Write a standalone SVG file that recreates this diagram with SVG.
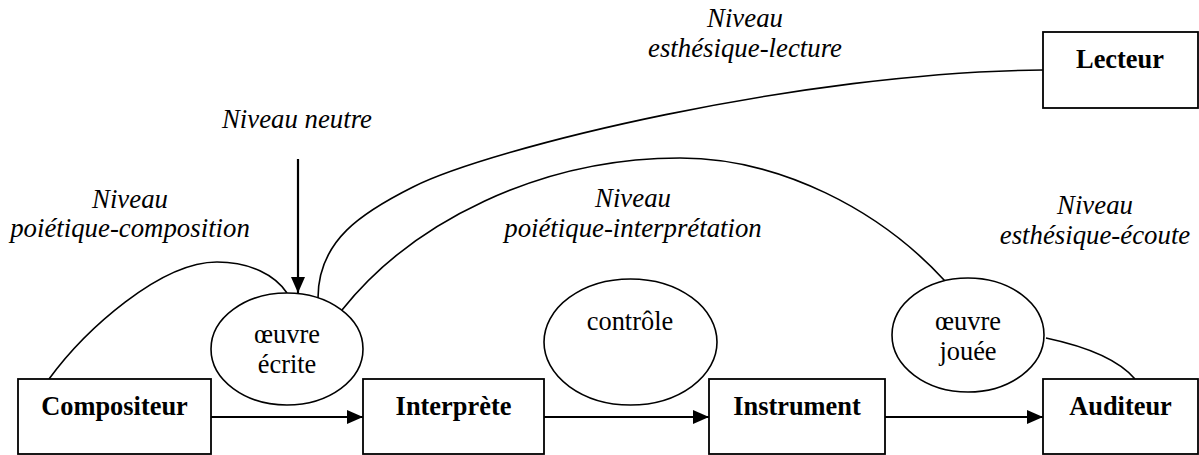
<svg xmlns="http://www.w3.org/2000/svg" width="1199" height="455" viewBox="0 0 1199 455">
  <defs>
    <style>
      .box { fill: #fff; stroke: #000; stroke-width: 1.8; }
      .oval { fill: #fff; stroke: #000; stroke-width: 1.6; }
      .curve { fill: none; stroke: #000; stroke-width: 1.6; }
      .flow { fill: none; stroke: #000; stroke-width: 2.2; }
      text { font-family: 'Liberation Serif', 'Times New Roman', serif; font-size: 26.4px; text-anchor: middle; fill: #000; }
      .name { font-weight: bold; }
      .level { font-style: italic; font-size: 26.8px; }
    </style>
    <marker id="arrow" viewBox="0 0 16 14" refX="16" refY="7" markerWidth="16" markerHeight="14" markerUnits="userSpaceOnUse" orient="auto">
      <path d="M0,0 L16,7 L0,14 Z" fill="#000"/>
    </marker>
  </defs>

  <!-- level labels -->
  <g id="labels">
    <text class="level" x="745" y="27">Niveau</text>
    <text class="level" x="745" y="57">esthésique-lecture</text>
    <text class="level" x="297" y="128">Niveau neutre</text>
    <text class="level" x="130" y="208">Niveau</text>
    <text class="level" x="130" y="237">poiétique-composition</text>
    <text class="level" x="633" y="207">Niveau</text>
    <text class="level" x="633" y="237">poiétique-interprétation</text>
    <text class="level" x="1095" y="214">Niveau</text>
    <text class="level" x="1095" y="244">esthésique-écoute</text>
  </g>

  <!-- connectors -->
  <g id="connectors">
    <path class="curve" d="M49,379 C85,330 160,262 217,262 C250,262 275,275 287,293"/>
    <path class="curve" d="M318,298 C318,240 363,212 413,187 C490,148 800,72 1043,70"/>
    <path class="curve" d="M342,310 C412,222 540,158 680,158 C780,158 880,210 945,281"/>
    <path class="curve" d="M1046,338 Q1112,352 1135,379"/>
    <line class="flow" x1="298" y1="159" x2="298" y2="293" marker-end="url(#arrow)"/>
    <line class="flow" x1="211" y1="417" x2="363" y2="417" marker-end="url(#arrow)"/>
    <line class="flow" x1="544" y1="417" x2="709" y2="417" marker-end="url(#arrow)"/>
    <line class="flow" x1="885" y1="417" x2="1043" y2="417" marker-end="url(#arrow)"/>
  </g>

  <g id="lecteur">
    <rect class="box" x="1043" y="32" width="155" height="76"/>
    <text class="name" x="1120" y="68">Lecteur</text>
  </g>

  <g id="oeuvre-ecrite">
    <ellipse class="oval" cx="287" cy="349" rx="76" ry="56"/>
    <text class="work" x="287" y="343">œuvre</text>
    <text class="work" x="287" y="373">écrite</text>
  </g>

  <g id="controle">
    <ellipse class="oval" cx="630.5" cy="342" rx="86.5" ry="63"/>
    <text class="work" x="630" y="330">contrôle</text>
  </g>

  <g id="oeuvre-jouee">
    <ellipse class="oval" cx="968" cy="335" rx="76" ry="57"/>
    <text class="work" x="968" y="330">œuvre</text>
    <text class="work" x="968" y="360">jouée</text>
  </g>

  <g id="compositeur">
    <rect class="box" x="18" y="379" width="193" height="75"/>
    <text class="name" x="114.5" y="415">Compositeur</text>
  </g>

  <g id="interprete">
    <rect class="box" x="363" y="379" width="181" height="75"/>
    <text class="name" x="453.5" y="415">Interprète</text>
  </g>

  <g id="instrument">
    <rect class="box" x="709" y="379" width="176" height="75"/>
    <text class="name" x="797" y="415">Instrument</text>
  </g>

  <g id="auditeur">
    <rect class="box" x="1043" y="379" width="155" height="75"/>
    <text class="name" x="1120.5" y="415">Auditeur</text>
  </g>
</svg>
